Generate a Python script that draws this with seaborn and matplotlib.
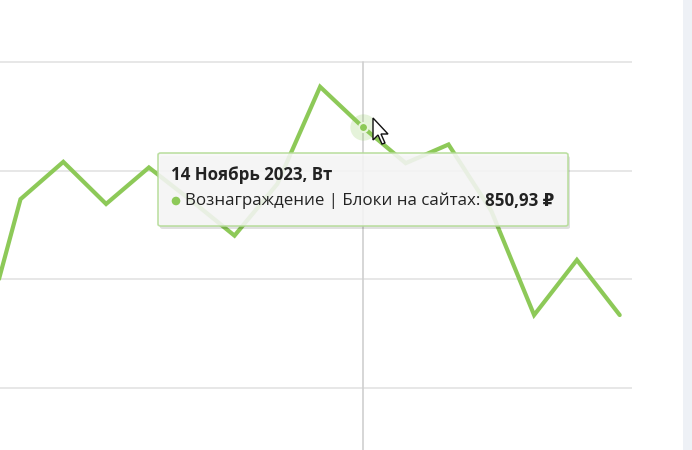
import numpy as np
import pandas as pd
import seaborn as sns
import matplotlib.pyplot as plt
from matplotlib.patches import FancyBboxPatch, Rectangle, Polygon, Ellipse

days = ["05.11.2023", "06.11.2023", "07.11.2023", "08.11.2023", "09.11.2023",
        "10.11.2023", "11.11.2023", "12.11.2023", "13.11.2023", "14.11.2023",
        "15.11.2023", "16.11.2023", "17.11.2023", "18.11.2023", "19.11.2023",
        "20.11.2023"]
reward = [319, 685, 771, 674, 758, 681, 601, 720, 944, 850.93,
          768, 811, 658, 418, 545, 418]
grid_values = [250, 500, 750, 1000]
hover_idx = 9
tooltip_title = "14 Ноябрь 2023, Вт"
tooltip_label = "Вознаграждение | Блоки на сайтах: "
tooltip_value = "850,93 ₽"

green = "#8dc958"
W, H = 692, 450

sns.set_style("white")
plt.rcParams['font.family'] = ['Open Sans', 'DejaVu Sans']

df = pd.DataFrame({"idx": np.arange(len(days)), "day": days, "reward": reward})

fig = plt.figure(figsize=(W / 100, H / 100), dpi=100)
ax = fig.add_axes([0, 0, 632 / W, 1])

ax.set_yticks(grid_values)
ax.yaxis.grid(True, color="#e3e3e3", linewidth=1.2)
ax.xaxis.grid(False)
sns.lineplot(data=df, x="idx", y="reward", ax=ax, color=green, linewidth=3.0,
             solid_joinstyle="miter", solid_capstyle="round", zorder=3)
# about 42.8 px per day, day 1 at x=20.5 px
ax.set_xlim(1 - 20.5 / 42.8, 1 + 611.5 / 42.8)
ax.set_ylim(107, 1144)
ax.set_xticks([])
ax.set_yticklabels([])
ax.tick_params(left=False, bottom=False)
ax.set_xlabel("")
ax.set_ylabel("")
for s in ax.spines.values():
    s.set_visible(False)

# crosshair and hovered point
ax.axvline(hover_idx, ymin=0, ymax=(1000 - 107) / (1144 - 107), color="#cfcfcf",
           linewidth=1.2, zorder=2)
ax.scatter([hover_idx], [reward[hover_idx]], s=360, color=green, alpha=0.22,
           linewidths=0, zorder=4)
ax.scatter([hover_idx], [reward[hover_idx]], s=42, color=green,
           edgecolors="#e8f5dc", linewidths=1.5, zorder=5)


def fx(px):
    return px / W


def fy(py):
    return 1 - py / H


# tooltip box
bx0, by0, bx1, by1 = 158, 153, 568, 226
shadow = FancyBboxPatch((fx(bx0 + 2), fy(by1 + 3)), fx(bx1 - bx0), (by1 - by0) / H,
                        boxstyle="round,pad=0,rounding_size=0.004",
                        transform=fig.transFigure, facecolor="#000000", alpha=0.12,
                        edgecolor="none", zorder=8)
fig.patches.append(shadow)
box = FancyBboxPatch((fx(bx0), fy(by1)), fx(bx1 - bx0), (by1 - by0) / H,
                     boxstyle="round,pad=0,rounding_size=0.004",
                     transform=fig.transFigure, facecolor="#f8f8f8", alpha=0.88,
                     edgecolor="#b5dc98", linewidth=1.2, zorder=9)
fig.patches.append(box)

fig.text(fx(171), fy(175), tooltip_title, fontsize=12.2, fontweight="bold",
         color="#222222", va="center", ha="left", zorder=10)
fig.patches.append(Ellipse((fx(176), fy(201)), 7.2 / W, 7.2 / H,
                           transform=fig.transFigure, color=green, zorder=10))
t = fig.text(fx(185), fy(201), tooltip_label, fontsize=12.2, color="#222222",
             va="center", ha="left", zorder=10)
fig.canvas.draw()
ext = t.get_window_extent(fig.canvas.get_renderer())
fig.text(ext.x1 / W, fy(201), tooltip_value, fontsize=12.2, fontweight="bold",
         color="#222222", va="center", ha="left", zorder=10)

# mouse cursor
tip = (373, 118)
shape = [(0, 0), (0, 22), (5, 17), (9, 26), (12, 25), (8, 16), (15, 16)]
cursor = Polygon([(fx(tip[0] + a), fy(tip[1] + b)) for a, b in shape], closed=True,
                 transform=fig.transFigure, facecolor="white", edgecolor="#111111",
                 linewidth=1.0, zorder=11)
fig.patches.append(cursor)

# light strip on the right edge
fig.patches.append(Rectangle((fx(683), 0), fx(W - 683), 1, transform=fig.transFigure,
                             facecolor="#eef1f6", edgecolor="none", zorder=1))

fig.savefig("out.png", dpi=100)
